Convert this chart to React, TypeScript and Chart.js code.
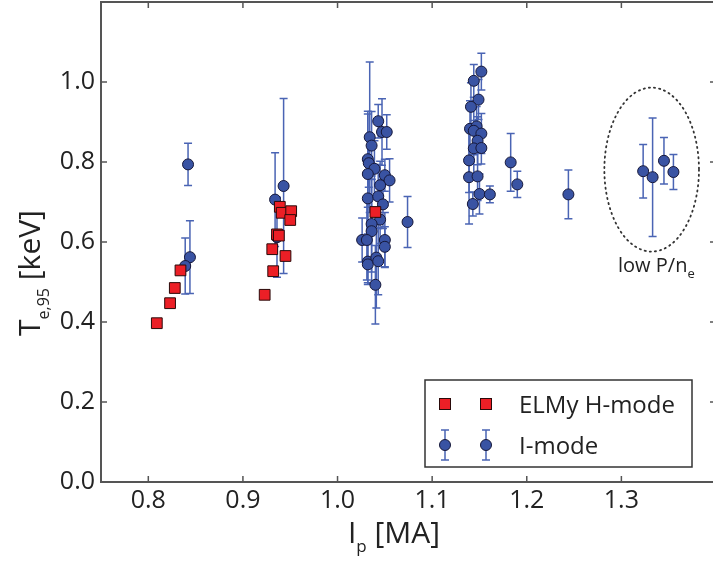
import React, { useEffect, useRef } from 'react';
import { Chart, registerables } from 'chart.js';

Chart.register(...registerables);

// ---------- data ----------
const elmyIp = [0.809, 0.823, 0.828, 0.834, 0.923, 0.932, 0.931, 0.936, 0.938, 0.939, 0.941, 0.951, 0.950, 0.945, 1.040];
const elmyTe = [0.397, 0.447, 0.485, 0.529, 0.468, 0.527, 0.582, 0.619, 0.616, 0.688, 0.673, 0.677, 0.655, 0.565, 0.675];

const imodeIp = [
  0.842, 0.844, 0.839,
  0.934, 0.943, 0.936,
  1.034, 1.036, 1.032, 1.043, 1.047, 1.052, 1.033, 1.039, 1.032, 1.050, 1.055, 1.045, 1.032, 1.043,
  1.048, 1.045, 1.036, 1.036, 1.026, 1.031, 1.050, 1.050, 1.032, 1.032, 1.041, 1.043, 1.040, 1.074,
  1.152, 1.144, 1.149, 1.141, 1.140, 1.147, 1.144, 1.152, 1.148, 1.144, 1.152, 1.139, 1.139, 1.148,
  1.150, 1.161, 1.143, 1.183, 1.190, 1.244,
  1.323, 1.333, 1.345, 1.355,
];
const imodeTe = [
  0.794, 0.562, 0.540,
  0.706, 0.740, 0.612,
  0.862, 0.841, 0.807, 0.902, 0.875, 0.875, 0.797, 0.783, 0.770, 0.767, 0.754, 0.742, 0.709, 0.714,
  0.694, 0.656, 0.645, 0.627, 0.605, 0.605, 0.605, 0.588, 0.551, 0.544, 0.561, 0.552, 0.493, 0.650,
  1.026, 1.003, 0.956, 0.938, 0.883, 0.889, 0.878, 0.871, 0.853, 0.834, 0.835, 0.804, 0.762, 0.764,
  0.720, 0.719, 0.695, 0.799, 0.744, 0.719,
  0.777, 0.762, 0.803, 0.775,
];
const imodeErr = [
  0.053, 0.091, 0.070,
  0.117, 0.219, 0.100,
  0.188, 0.085, 0.120, 0.042, 0.083, 0.043, 0.060, 0.070, 0.150, 0.040, 0.054, 0.060, 0.100, 0.080,
  0.060, 0.060, 0.120, 0.130, 0.055, 0.100, 0.069, 0.050, 0.053, 0.050, 0.126, 0.084, 0.098, 0.064,
  0.046, 0.041, 0.050, 0.060, 0.070, 0.050, 0.060, 0.050, 0.060, 0.070, 0.040, 0.080, 0.117, 0.060,
  0.050, 0.021, 0.030, 0.072, 0.033, 0.061,
  0.067, 0.148, 0.058, 0.044,
];

const xTickValues = [0.8, 0.9, 1.0, 1.1, 1.2, 1.3];
const yTickValues = [0.0, 0.2, 0.4, 0.6, 0.8, 1.0];

const seriesNames = ['ELMy H-mode', 'I-mode'];
const xTitle = [{ t: 'I' }, { t: 'p', sub: true }, { t: ' [MA]' }];
const yTitle = [{ t: 'T' }, { t: 'e,95', sub: true }, { t: ' [keV]' }];
const noteText = [{ t: 'low P/n' }, { t: 'e', sub: true }];

// annotation geometry (data units)
const ellipseCenter = [1.332, 0.781];
const ellipseRadii = [0.05, 0.205];
const notePos = [1.337, 0.525];

// ---------- styles ----------
const FONT = '"Open Sans", "Noto Sans", "Liberation Sans", sans-serif';
const RED = '#ec1f26';
const RED_EDGE = '#2a0a0a';
const BLUE = '#3953a3';
const BLUE_EDGE = '#16183a';
const BAR = '#4a64b4';
const AXIS = '#555555';
const TEXT = '#222222';

type Part = { t: string; sub?: boolean };

function drawRich(
  ctx: CanvasRenderingContext2D,
  parts: Part[],
  x: number,
  y: number,
  size: number,
  subSize: number,
  subDrop: number,
  align: 'left' | 'center'
) {
  const widths = parts.map((p) => {
    ctx.font = `${p.sub ? subSize : size}px ${FONT}`;
    return ctx.measureText(p.t).width;
  });
  const total = widths.reduce((a, b) => a + b, 0);
  let cx = align === 'center' ? x - total / 2 : x;
  ctx.textAlign = 'left';
  ctx.textBaseline = 'alphabetic';
  parts.forEach((p, i) => {
    ctx.font = `${p.sub ? subSize : size}px ${FONT}`;
    ctx.fillText(p.t, cx, y + (p.sub ? subDrop : 0));
    cx += widths[i];
  });
}

function errBar(ctx: CanvasRenderingContext2D, px: number, top: number, bottom: number) {
  ctx.beginPath();
  ctx.moveTo(px, top);
  ctx.lineTo(px, bottom);
  ctx.moveTo(px - 4, top);
  ctx.lineTo(px + 4, top);
  ctx.moveTo(px - 4, bottom);
  ctx.lineTo(px + 4, bottom);
  ctx.stroke();
}

const decor = {
  id: 'decor',
  beforeDatasetsDraw(chart: any) {
    const { ctx, scales } = chart;
    const x = scales.x;
    const y = scales.y;
    ctx.save();
    ctx.strokeStyle = BAR;
    ctx.lineWidth = 1.5;
    imodeIp.forEach((v, i) => {
      const px = x.getPixelForValue(v);
      const t = y.getPixelForValue(imodeTe[i] + imodeErr[i]);
      const b = y.getPixelForValue(imodeTe[i] - imodeErr[i]);
      errBar(ctx, px, t, b);
    });
    ctx.restore();
  },
  afterDatasetsDraw(chart: any) {
    const { ctx, chartArea, scales } = chart;
    const x = scales.x;
    const y = scales.y;
    const { left, right, top, bottom } = chartArea;
    ctx.save();
    // dotted ellipse
    const cx = x.getPixelForValue(ellipseCenter[0]);
    const cy = y.getPixelForValue(ellipseCenter[1]);
    const rx = Math.abs(x.getPixelForValue(ellipseCenter[0] + ellipseRadii[0]) - cx);
    const ry = Math.abs(y.getPixelForValue(ellipseCenter[1] + ellipseRadii[1]) - cy);
    ctx.beginPath();
    ctx.setLineDash([1.2, 4]);
    ctx.lineCap = 'round';
    ctx.lineWidth = 1.8;
    ctx.strokeStyle = '#333';
    ctx.ellipse(cx, cy, rx, ry, 0, 0, Math.PI * 2);
    ctx.stroke();
    ctx.setLineDash([]);
    ctx.lineCap = 'butt';
    // note text
    ctx.fillStyle = TEXT;
    drawRich(ctx, noteText, x.getPixelForValue(notePos[0]), y.getPixelForValue(notePos[1]), 20, 13, 6, 'center');
    // frame
    ctx.strokeStyle = AXIS;
    ctx.lineWidth = 2;
    ctx.strokeRect(left, top, right - left, bottom - top);
    // inward ticks
    ctx.lineWidth = 1.5;
    ctx.beginPath();
    xTickValues.forEach((v) => {
      const px = x.getPixelForValue(v);
      ctx.moveTo(px, bottom);
      ctx.lineTo(px, bottom - 6);
      ctx.moveTo(px, top);
      ctx.lineTo(px, top + 6);
    });
    yTickValues.forEach((v) => {
      const py = y.getPixelForValue(v);
      ctx.moveTo(left, py);
      ctx.lineTo(left + 6, py);
      ctx.moveTo(right, py);
      ctx.lineTo(right - 6, py);
    });
    ctx.stroke();
    ctx.restore();
  },
  afterDraw(chart: any) {
    const { ctx } = chart;
    ctx.save();
    ctx.fillStyle = TEXT;
    // x title
    drawRich(ctx, xTitle, 394, 543, 30, 17, 9, 'center');
    // y title
    ctx.save();
    ctx.translate(40, 273);
    ctx.rotate(-Math.PI / 2);
    drawRich(ctx, yTitle, 0, 0, 30, 16, 9, 'center');
    ctx.restore();

    // legend
    const bx = 425;
    const by = 380;
    const bw = 267;
    const bh = 87;
    ctx.fillStyle = '#ffffff';
    ctx.fillRect(bx, by, bw, bh);
    ctx.strokeStyle = '#333';
    ctx.lineWidth = 1.5;
    ctx.strokeRect(bx, by, bw, bh);
    const mx = [445, 486];
    const row1 = 404;
    const row2 = 445;
    mx.forEach((m) => {
      ctx.fillStyle = RED;
      ctx.strokeStyle = RED_EDGE;
      ctx.lineWidth = 1;
      ctx.fillRect(m - 5.5, row1 - 5.5, 11, 11);
      ctx.strokeRect(m - 5.5, row1 - 5.5, 11, 11);
      ctx.strokeStyle = BAR;
      ctx.lineWidth = 1.5;
      errBar(ctx, m, row2 - 15, row2 + 15);
      ctx.beginPath();
      ctx.arc(m, row2, 5.5, 0, Math.PI * 2);
      ctx.fillStyle = BLUE;
      ctx.fill();
      ctx.strokeStyle = BLUE_EDGE;
      ctx.lineWidth = 1;
      ctx.stroke();
    });
    ctx.fillStyle = TEXT;
    ctx.font = `24px ${FONT}`;
    ctx.textAlign = 'left';
    ctx.textBaseline = 'alphabetic';
    ctx.fillText(seriesNames[0], 519, row1 + 9);
    ctx.fillText(seriesNames[1], 519, row2 + 9);
    ctx.restore();
  },
};

export default function App() {
  const ref = useRef<HTMLCanvasElement>(null);
  useEffect(() => {
    document.body.style.margin = '0';
    const canvas = ref.current;
    if (!canvas) return;
    const chart = new Chart(canvas, {
      type: 'scatter',
      data: {
        datasets: [
          {
            label: seriesNames[0],
            data: elmyIp.map((v, i) => ({ x: v, y: elmyTe[i] })),
            pointStyle: 'rect',
            pointRadius: 7.6,
            backgroundColor: RED,
            borderColor: RED_EDGE,
            borderWidth: 1,
          },
          {
            label: seriesNames[1],
            data: imodeIp.map((v, i) => ({ x: v, y: imodeTe[i] })),
            pointStyle: 'circle',
            pointRadius: 5.5,
            backgroundColor: BLUE,
            borderColor: BLUE_EDGE,
            borderWidth: 1,
          },
        ],
      },
      options: {
        responsive: false,
        animation: false,
        events: [],
        layout: { autoPadding: false, padding: { left: 0, right: 2, top: 2, bottom: 0 } },
        plugins: { legend: { display: false }, tooltip: { enabled: false } },
        scales: {
          x: {
            type: 'linear',
            min: 0.75,
            max: 1.4,
            grid: { display: false, drawTicks: false },
            border: { display: false },
            afterFit: (s: any) => {
              s.height = 81;
              s.paddingLeft = 0;
              s.paddingRight = 0;
            },
            afterBuildTicks: (s: any) => {
              s.ticks = xTickValues.map((v) => ({ value: v }));
            },
            ticks: {
              autoSkip: false,
              maxRotation: 0,
              padding: 4,
              color: TEXT,
              font: { family: FONT, size: 25 },
              callback: (v: any) => Number(v).toFixed(1),
            },
          },
          y: {
            type: 'linear',
            min: 0,
            max: 1.2,
            grid: { display: false, drawTicks: false },
            border: { display: false },
            afterFit: (s: any) => {
              s.width = 101;
              s.paddingTop = 0;
              s.paddingBottom = 0;
            },
            afterBuildTicks: (s: any) => {
              s.ticks = yTickValues.map((v) => ({ value: v }));
            },
            ticks: {
              autoSkip: false,
              padding: 6,
              color: TEXT,
              font: { family: FONT, size: 25 },
              callback: (v: any) => Number(v).toFixed(1),
            },
          },
        },
      },
      plugins: [decor],
    });
    return () => chart.destroy();
  }, []);
  return (
    <div style={{ width: 713, height: 563, overflow: 'hidden', position: 'relative', background: '#fff' }}>
      <canvas ref={ref} width={718} height={563} style={{ display: 'block' }} />
    </div>
  );
}
